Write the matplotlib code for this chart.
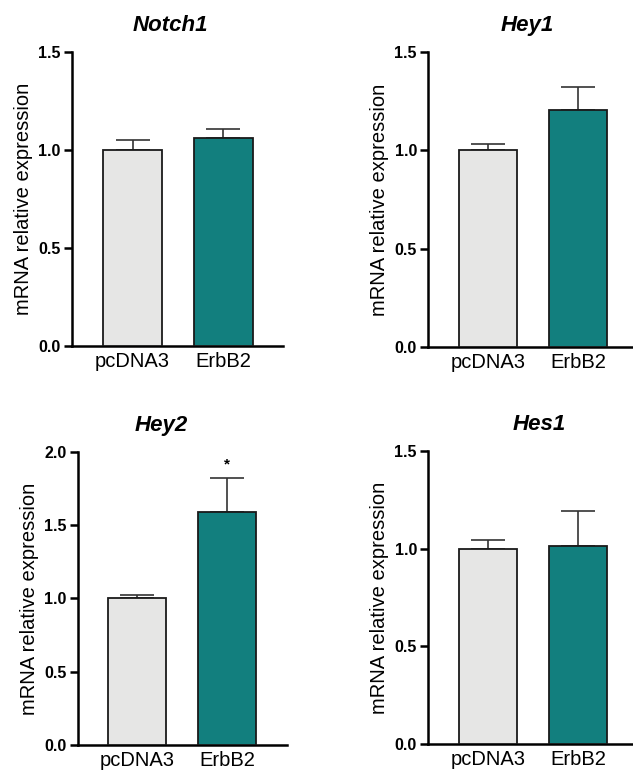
import numpy as np
import matplotlib.pyplot as plt

plt.rcParams['font.family'] = ['Liberation Sans', 'DejaVu Sans']

groups = ['pcDNA3', 'ErbB2']
genes = ['Notch1', 'Hey1', 'Hey2', 'Hes1']
means = {
    'Notch1': [1.00, 1.06],
    'Hey1': [1.00, 1.205],
    'Hey2': [1.00, 1.59],
    'Hes1': [1.00, 1.015],
}
sems = {
    'Notch1': [0.05, 0.045],
    'Hey1': [0.033, 0.115],
    'Hey2': [0.025, 0.23],
    'Hes1': [0.042, 0.178],
}
ymax = {'Notch1': 1.5, 'Hey1': 1.5, 'Hey2': 2.0, 'Hes1': 1.5}
signif = {'Hey2': [None, '*']}

bar_colors = ['#e6e6e5', '#127f7e']

fig = plt.figure(figsize=(6.33, 7.75), dpi=100)

# axes rectangles [left, bottom, width, height] in figure fraction
rects = {
    'Notch1': [0.1137, 0.5535, 0.3333, 0.3794],
    'Hey1': [0.6762, 0.5523, 0.3238, 0.3806],
    'Hey2': [0.1232, 0.0387, 0.3302, 0.3781],
    'Hes1': [0.6762, 0.0400, 0.3238, 0.3781],
}
xlims = {
    'Notch1': (-0.67, 1.66),
    'Hey1': (-0.67, 1.61),
    'Hey2': (-0.66, 1.67),
    'Hes1': (-0.67, 1.61),
}
# title centre, in axes fraction (the original titles are not centred)
title_x = {'Notch1': 0.464, 'Hey1': 0.483, 'Hey2': 0.40, 'Hes1': 0.541}

for g in genes:
    ax = fig.add_axes(rects[g])
    x = np.arange(len(groups))
    ax.bar(x, means[g], width=0.65, color=bar_colors, edgecolor='#1a1a1a',
           linewidth=1.3, zorder=3)
    ax.errorbar(x, means[g], yerr=[np.zeros(len(x)), sems[g]], fmt='none',
                ecolor='#333333', elinewidth=1.2, capsize=12, capthick=1.2,
                zorder=2)
    if g in signif:
        for xi, s in zip(x, signif[g]):
            if s:
                top = means[g][xi] + sems[g][xi]
                ax.text(xi, top + 0.05, s, ha='center', va='bottom',
                        fontsize=11, fontweight='bold')
    ax.set_xlim(*xlims[g])
    ax.set_ylim(0, ymax[g])
    ticks = np.arange(0, ymax[g] + 0.01, 0.5)
    ax.set_yticks(ticks)
    ax.set_yticklabels([f'{v:.1f}' for v in ticks], fontweight='bold',
                       fontsize=11.5)
    ax.set_xticks(x)
    ax.set_xticklabels(groups, fontsize=14.5)
    ax.tick_params(axis='x', length=0, pad=4)
    ax.tick_params(axis='y', length=6, width=1.8, pad=2)
    for side in ['top', 'right']:
        ax.spines[side].set_visible(False)
    for side in ['left', 'bottom']:
        ax.spines[side].set_linewidth(1.8)
    ax.set_ylabel('mRNA relative expression', fontsize=14.5, labelpad=4)
    ax.set_title(g, x=title_x[g], fontsize=16, fontweight='bold',
                 fontstyle='italic', pad=15)

fig.savefig('out.png', dpi=100)
